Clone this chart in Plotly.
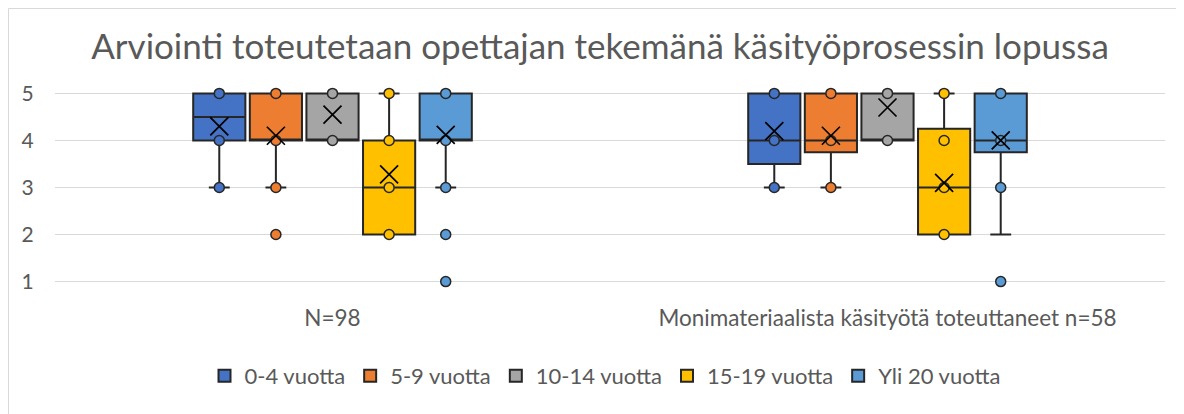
import plotly.graph_objects as go

categories = ["N=98", "Monimateriaalista käsityötä toteuttaneet n=58"]
series = ["0-4 vuotta", "5-9 vuotta", "10-14 vuotta", "15-19 vuotta", "Yli 20 vuotta"]
colors = ["#4472C4", "#ED7D31", "#A5A5A5", "#FFC000", "#5B9BD5"]

# per series: [value for category 1, value for category 2]
q1 = [[4, 3.5], [4, 3.75], [4, 4], [2, 2], [4, 3.75]]
median = [[4.5, 4], [4, 4], [4, 4], [3, 3], [4, 4]]
q3 = [[5, 5], [5, 5], [5, 5], [4, 4.25], [5, 5]]
mean = [[4.3, 4.2], [4.1, 4.1], [4.55, 4.7], [3.28, 3.1], [4.12, 4.0]]
lower_whisker = [[3, 3], [3, 3], [4, 4], [2, 2], [3, 2]]
upper_whisker = [[5, 5], [5, 5], [5, 5], [5, 5], [5, 5]]
points = [
    [[5, 4, 3], [5, 4, 3]],
    [[5, 4, 3, 2], [5, 4, 3]],
    [[5, 4], [5, 4]],
    [[5, 4, 3, 2], [5, 4, 3, 2]],
    [[5, 4, 3, 2, 1], [5, 4, 3, 1]],
]
y_ticks = [1, 2, 3, 4, 5]

spacing = 0.102
box_width = 0.094
edge = "#262626"
text_color = "#595959"
font_family = "Lato, 'Open Sans', sans-serif"

fig = go.Figure()
for k, name in enumerate(series):
    xs = [ci + (k - 2) * spacing for ci in range(len(categories))]
    fig.add_trace(go.Box(
        name=name, x=xs, q1=q1[k], median=median[k], q3=q3[k],
        lowerfence=lower_whisker[k], upperfence=upper_whisker[k],
        width=box_width, whiskerwidth=0.4, boxpoints=False,
        fillcolor=colors[k], line=dict(color=edge, width=2),
        hoverinfo="skip", showlegend=True, legendgroup=name,
    ))
for k, name in enumerate(series):
    px, py = [], []
    for ci in range(len(categories)):
        for v in points[k][ci]:
            px.append(ci + (k - 2) * spacing)
            py.append(v)
    fig.add_trace(go.Scatter(
        x=px, y=py, mode="markers", showlegend=False, legendgroup=name,
        marker=dict(size=10, color=colors[k], line=dict(color=edge, width=1.5)),
        cliponaxis=False, hoverinfo="skip",
    ))
    fig.add_trace(go.Scatter(
        x=[ci + (k - 2) * spacing for ci in range(len(categories))], y=mean[k],
        mode="markers", showlegend=False, legendgroup=name,
        marker=dict(symbol="x-thin-open", size=18, color="black",
                    line=dict(color="black", width=1.7)),
        cliponaxis=False, hoverinfo="skip",
    ))

# page body has an 8px margin; layout below is in figure (div) pixels
OFF = 8
W, H = 1184, 414
pw, ph = 1110, 191
l, t = 55 - OFF, 92 - OFF
r, b = W - l - pw, H - t - ph

fig.update_layout(
    width=W, height=H,
    margin=dict(l=l, r=r, t=t, b=b, autoexpand=False),
    paper_bgcolor="white", plot_bgcolor="white",
    font=dict(family=font_family, color=text_color, size=21),
    title=dict(text="Arviointi toteutetaan opettajan tekemänä käsityöprosessin lopussa",
               x=0.5, xanchor="center", y=1 - (47 - OFF) / H, yanchor="middle",
               xref="container", yref="container",
               font=dict(size=35, color=text_color)),
    showlegend=True,
    legend=dict(orientation="h", x=(605 - OFF - l) / pw, xanchor="center",
                y=(t + ph - (376 - OFF)) / ph, yanchor="middle",
                font=dict(size=22, color=text_color), itemwidth=30,
                traceorder="normal"),
    xaxis=dict(range=[-0.5, 1.5], tickvals=list(range(len(categories))),
               ticktext=categories, showgrid=False, zeroline=False,
               ticks="outside", ticklen=15, tickcolor="rgba(0,0,0,0)",
               showline=False, automargin=False,
               tickfont=dict(size=22.5, color=text_color)),
    yaxis=dict(range=[0.97, 5.03], tickvals=y_ticks, showgrid=True,
               gridcolor="#d9d9d9", gridwidth=1, zeroline=False,
               ticks="outside", ticklen=16, tickcolor="rgba(0,0,0,0)",
               automargin=False,
               tickfont=dict(size=21, color=text_color)),
    shapes=[dict(type="rect", xref="paper", yref="paper",
                 x0=(0.5 - l) / pw, x1=(W + 20 - l) / pw,
                 y0=(t + ph - (H + 20)) / ph, y1=(t + ph - 0.5) / ph,
                 line=dict(color="#d9d9d9", width=1), layer="below")],
)

fig.write_html("out.html")
